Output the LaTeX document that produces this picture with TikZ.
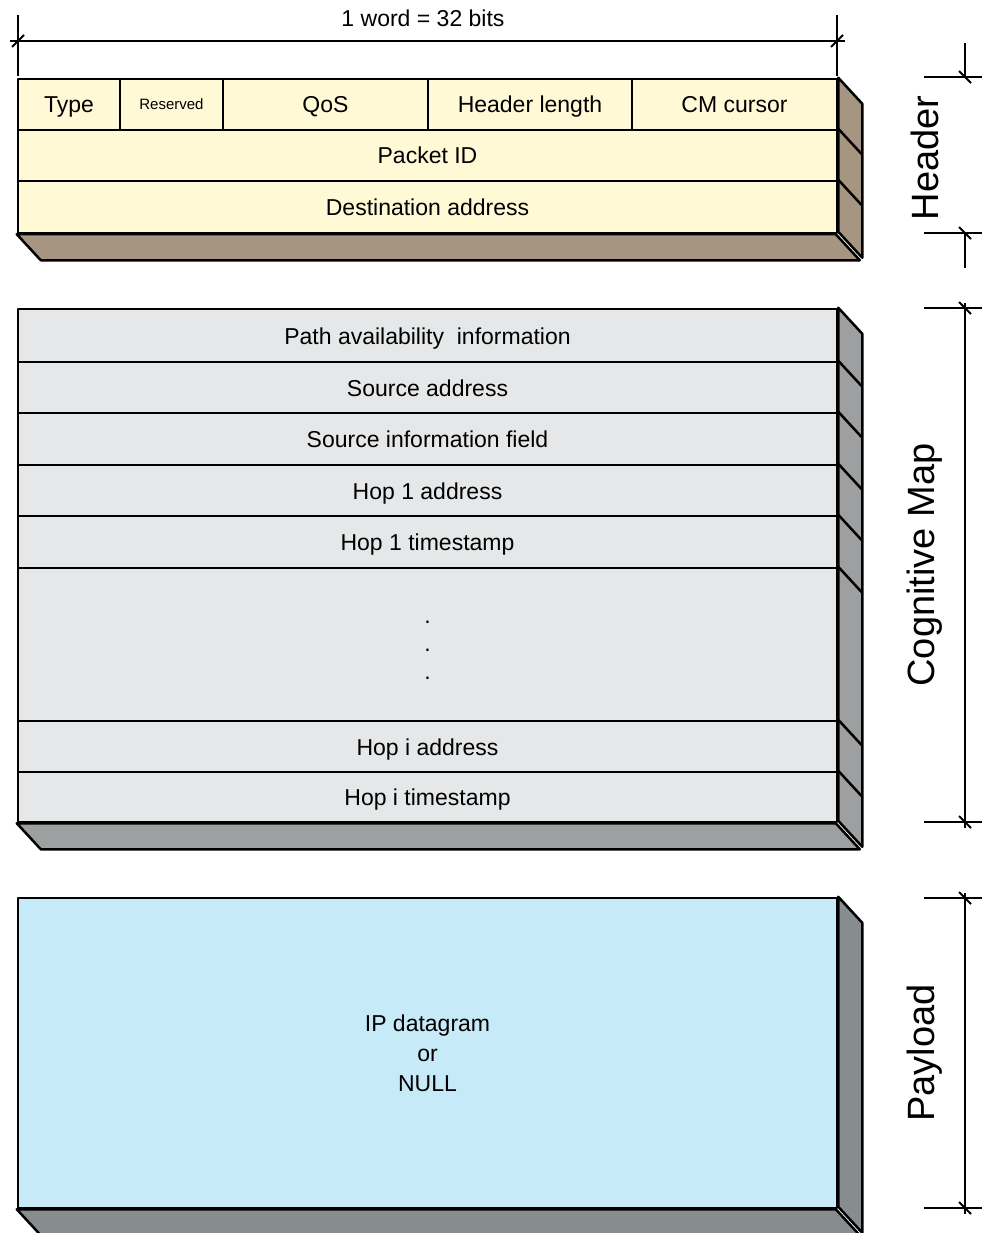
\documentclass[tikz,border=0pt]{standalone}
\usepackage{fontspec}
\setmainfont{Liberation Sans}
\definecolor{hdfill}{RGB}{255,249,214}
\definecolor{hdside}{RGB}{166,149,128}
\definecolor{cmfill}{RGB}{230,231,232}
\definecolor{cmside}{RGB}{157,159,160}
\definecolor{plfill}{RGB}{199,234,249}
\definecolor{plside}{RGB}{135,140,143}
\begin{document}
\begin{tikzpicture}[x=1pt,y=-1pt,line join=round,
  fld/.style 2 args={draw=black, line width=2.5pt, inner sep=0pt, minimum width=#1, minimum height=#2, font=\fontsize{23}{28}\selectfont, text height=17pt, text depth=0pt},
  side/.style={draw=black, line width=2.5pt},
  dim/.style={draw=black, line width=2pt},
  biglabel/.style={rotate=90, font=\fontsize{38}{40}\selectfont},
  txt/.style={font=\fontsize{23}{28}\selectfont, inner sep=0pt}]
\useasboundingbox (0,0) rectangle (982,1233);

% ---------- Header ----------
\node[fld={102pt}{51pt}, fill=hdfill] (type) at (69,104.5) {Type};
\node[fld={103pt}{51pt}, fill=hdfill, font=\fontsize{15}{18}\selectfont, text height=11pt] (res) at (171.5,104.5) {Reserved};
\node[fld={205pt}{51pt}, fill=hdfill] (qos) at (325.5,104.5) {QoS};
\node[fld={204pt}{51pt}, fill=hdfill] (hlen) at (530,104.5) {Header length};
\node[fld={205pt}{51pt}, fill=hdfill] (cmc) at (734.5,104.5) {CM cursor};
\node[fld={819pt}{51pt}, fill=hdfill] (pid) at (427.5,155.5) {Packet ID};
\node[fld={819pt}{52pt}, fill=hdfill] (dst) at (427.5,207) {Destination address};
\path[side, fill=hdside] (cmc.north east) -- ++(24,26) -- ++(0,154) -- ++(-24,-26) -- cycle;
\path[side, fill=hdside] (dst.south west) -- ++(24,26) -- ++(819,0) -- ++(-24,-26) -- cycle;
\draw[side] (pid.north east) -- ++(24,26);
\draw[side] (dst.north east) -- ++(24,26);

% ---------- Cognitive map ----------
\node[fld={819pt}{53pt}, fill=cmfill] (pai) at (427.5,335.5) {Path availability\ \ information};
\node[fld={819pt}{51pt}, fill=cmfill] (src) at (427.5,387.5) {Source address};
\node[fld={819pt}{52pt}, fill=cmfill] (sif) at (427.5,439) {Source information field};
\node[fld={819pt}{51pt}, fill=cmfill] (h1a) at (427.5,490.5) {Hop 1 address};
\node[fld={819pt}{52pt}, fill=cmfill] (h1t) at (427.5,542) {Hop 1 timestamp};
\node[fld={819pt}{153pt}, fill=cmfill] (gap) at (427.5,644.5) {};
\node[fld={819pt}{51pt}, fill=cmfill] (hia) at (427.5,746.5) {Hop i address};
\node[fld={819pt}{50pt}, fill=cmfill] (hit) at (427.5,797) {Hop i timestamp};
\node[txt, anchor=base] (d1) at (427.5,623) {.};
\node[txt, anchor=base] (d2) at (427.5,651) {.};
\node[txt, anchor=base] (d3) at (427.5,679) {.};
\path[side, fill=cmside] (pai.north east) -- ++(24,26) -- ++(0,513) -- ++(-24,-26) -- cycle;
\path[side, fill=cmside] (hit.south west) -- ++(24,26) -- ++(819,0) -- ++(-24,-26) -- cycle;
\foreach \n in {src,sif,h1a,h1t,gap,hia,hit}{\draw[side] (\n.north east) -- ++(24,26);}

% ---------- Payload ----------
\node[draw=black, line width=2.5pt, inner sep=0pt, minimum width=819pt, minimum height=310pt, fill=plfill, align=center, font=\fontsize{23}{30}\selectfont] (pl) at (427.5,1053) {IP datagram\\or\\NULL};
\path[side, fill=plside] (pl.north east) -- ++(24,26) -- ++(0,310) -- ++(-24,-26) -- cycle;
\path[side, fill=plside] (pl.south west) -- ++(24,26) -- ++(819,0) -- ++(-24,-26) -- cycle;

% ---------- Top dimension ----------
\coordinate (wl) at (18,41);
\coordinate (wr) at (837,41);
\draw[dim] (18,15) -- (18,76);
\draw[dim] (837,15) -- (837,76);
\draw[dim] (10,41) -- (845,41);
\draw[dim] (wl) ++(-6,6) -- ++(12,-12);
\draw[dim] (wr) ++(-6,6) -- ++(12,-12);
\node[txt] (word) at (423,18) {1 word = 32 bits};

% ---------- Right dimensions ----------
% Header
\draw[dim] (924,77) -- (982,77);
\draw[dim] (924,233) -- (982,233);
\draw[dim] (965,43) -- (965,77);
\draw[dim] (965,233) -- (965,268);
\draw[dim] (965,77) ++(-6,-6) -- ++(12,12);
\draw[dim] (965,233) ++(-6,-6) -- ++(12,12);
\node[biglabel] (hdrlab) at (925,158) {Header};
% Cognitive map
\draw[dim] (924,308) -- (982,308);
\draw[dim] (924,822) -- (982,822);
\draw[dim] (965,303) -- (965,828);
\draw[dim] (965,308) ++(-6,-6) -- ++(12,12);
\draw[dim] (965,822) ++(-6,-6) -- ++(12,12);
\node[biglabel] (cmlab) at (925,565) {Cognitive Map};
% Payload
\draw[dim] (924,898) -- (982,898);
\draw[dim] (924,1208) -- (982,1208);
\draw[dim] (965,893) -- (965,1214);
\draw[dim] (965,898) ++(-6,-6) -- ++(12,12);
\draw[dim] (965,1208) ++(-6,-6) -- ++(12,12);
\node[biglabel] (pllab) at (925,1053) {Payload};
\end{tikzpicture}
\end{document}
